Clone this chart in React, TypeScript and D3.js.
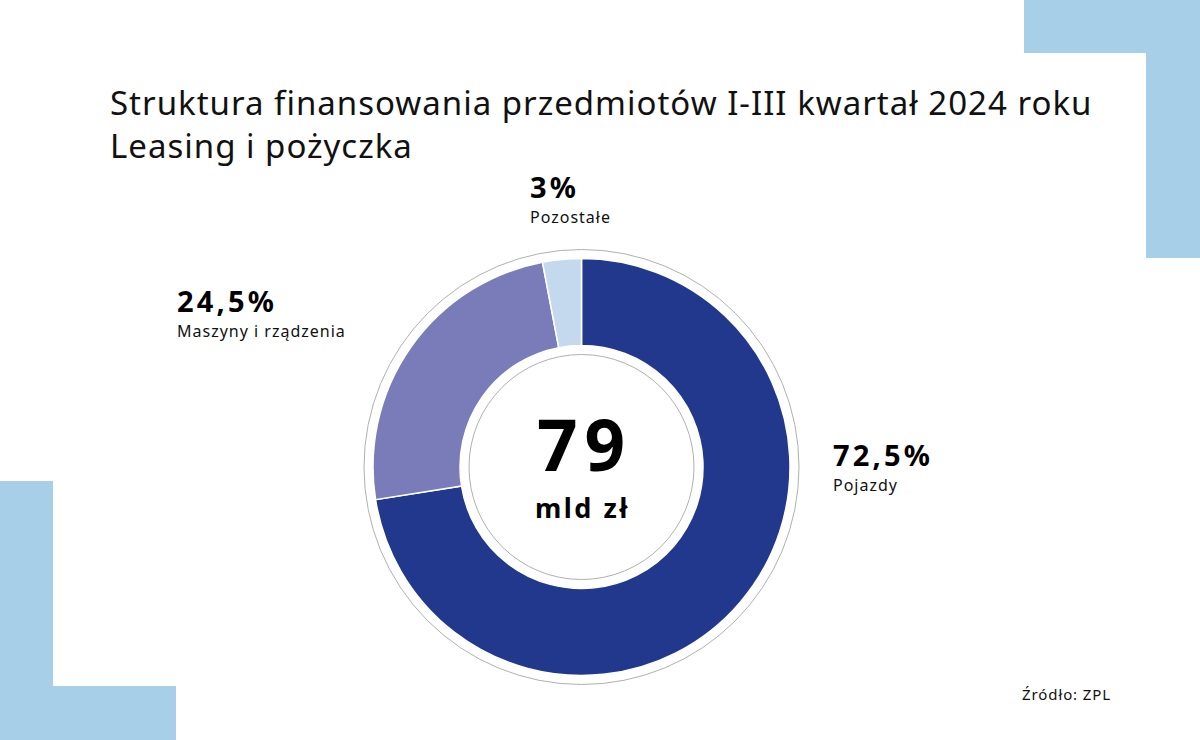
import React from "react";
import * as d3 from "d3";

const categories = ["Pojazdy", "Maszyny i rządzenia", "Pozostałe"];
const shares = [72.5, 24.5, 3];
const shareLabels = ["72,5%", "24,5%", "3%"];
const colors = ["#22388c", "#7a7cba", "#c4d8ee"];
const titleLines = [
  "Struktura finansowania przedmiotów I-III kwartał 2024 roku",
  "Leasing i pożyczka",
];
const centerValue = "79";
const centerUnit = "mld zł";
const source = "Źródło: ZPL";

const W = 1200;
const H = 740;
const cx = 581.5;
const cy = 467;
const outerR = 208.5;
const innerR = 121.5;
const font = "'Noto Sans', 'Open Sans', sans-serif";

// label anchor positions (x, baseline of percentage)
const labelPos: [number, number][] = [
  [833, 466],
  [177, 312],
  [530, 198],
];

export default function App() {
  const pie = d3
    .pie<number>()
    .sort(null)
    .value((d) => d);
  const arcs = pie(shares);
  const arc = d3
    .arc<d3.PieArcDatum<number>>()
    .innerRadius(innerR)
    .outerRadius(outerR);

  return (
    <svg
      width={W}
      height={H}
      style={{ position: "absolute", left: 0, top: 0, background: "#fff" }}
    >
      <rect x={0} y={0} width={W} height={H} fill="#fff" />
      {/* decorative corners */}
      <rect x={1024} y={0} width={176} height={53} fill="#a8cfe8" />
      <rect x={1146} y={0} width={54} height={258} fill="#a8cfe8" />
      <rect x={0} y={481} width={53} height={259} fill="#a8cfe8" />
      <rect x={0} y={686} width={176} height={54} fill="#a8cfe8" />

      {titleLines.map((t, i) => (
        <text
          key={i}
          x={110}
          y={115 + i * 43}
          fontFamily={font}
          fontSize={33}
          fontWeight={400}
          letterSpacing={1}
          fill="#111"
        >
          {t}
        </text>
      ))}

      <g transform={`translate(${cx},${cy})`}>
        <circle r={217.5} fill="none" stroke="#b0b0b0" strokeWidth={1} />
        {arcs.map((a, i) => (
          <path
            key={i}
            d={arc(a) || ""}
            fill={colors[i]}
            stroke="#fff"
            strokeWidth={1.5}
          />
        ))}
        <circle r={112.5} fill="#fff" stroke="#b0b0b0" strokeWidth={1} />
        <text
          x={3}
          y={4}
          textAnchor="middle"
          fontFamily={font}
          fontSize={71}
          fontWeight={700}
          letterSpacing={7}
          fill="#000"
        >
          {centerValue}
        </text>
        <text
          x={1}
          y={51}
          textAnchor="middle"
          fontFamily={font}
          fontSize={27}
          fontWeight={700}
          letterSpacing={2.5}
          fill="#000"
        >
          {centerUnit}
        </text>
      </g>

      {categories.map((c, i) => (
        <g key={c}>
          <text
            x={labelPos[i][0]}
            y={labelPos[i][1]}
            fontFamily={font}
            fontSize={29}
            fontWeight={700}
            letterSpacing={3.2}
            fill="#000"
          >
            {shareLabels[i]}
          </text>
          <text
            x={labelPos[i][0]}
            y={labelPos[i][1] + 25}
            fontFamily={font}
            fontSize={16}
            letterSpacing={1}
            fill="#111"
          >
            {c}
          </text>
        </g>
      ))}

      <text x={1022} y={700} fontFamily={font} fontSize={15} letterSpacing={0.9} fill="#111">
        {source}
      </text>
    </svg>
  );
}
